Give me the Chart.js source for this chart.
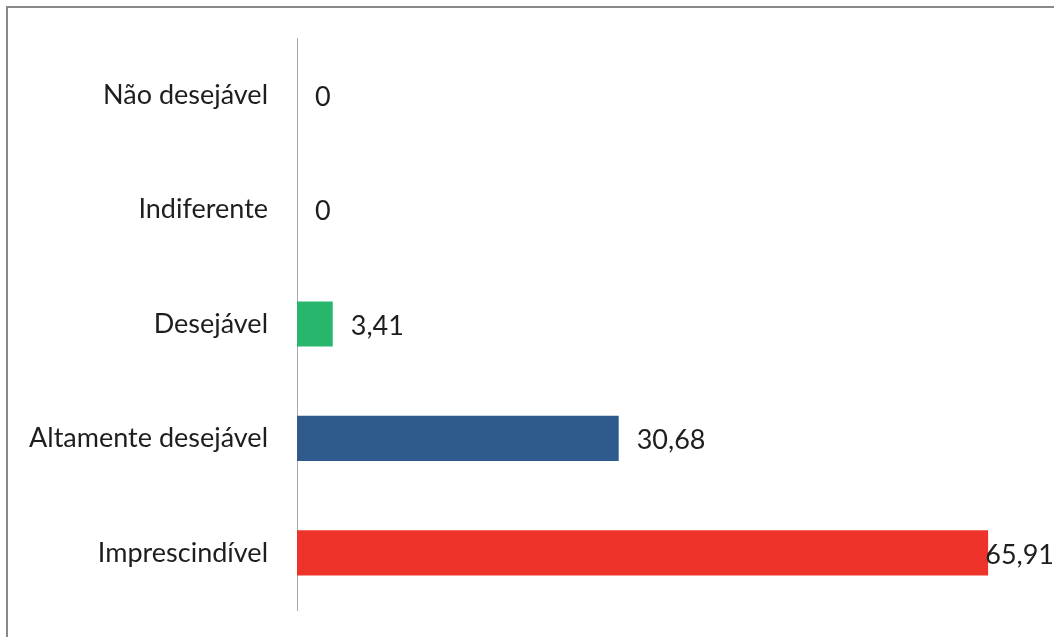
<!DOCTYPE html>
<html>
<head>
<meta charset="utf-8">
<script src="https://cdn.jsdelivr.net/npm/chart.js@4/dist/chart.umd.min.js"></script>
<style>
html,body{margin:0;padding:0;background:#fff;overflow:hidden;}
#wrap{position:absolute;left:0;top:0;width:1054px;height:637px;}
</style>
</head>
<body>
<div id="wrap"><canvas id="c" width="1054" height="637"></canvas></div>
<script>
const categories = ["Não desejável", "Indiferente", "Desejável", "Altamente desejável", "Imprescindível"];
const values = [0, 0, 3.41, 30.68, 65.91];
const valueLabels = ["0", "0", "3,41", "30,68", "65,91"];
const barColors = ["#9e9e9e", "#9e9e9e", "#27b66b", "#2f5a8c", "#ee332b"];

const FONT = "Lato, 'Open Sans', sans-serif";
const FONT_SIZE = 27;

const frame = {
  id: 'frame',
  beforeDraw(chart) {
    const ctx = chart.ctx;
    ctx.save();
    ctx.fillStyle = '#fff';
    ctx.fillRect(0, 0, chart.width, chart.height);
    ctx.strokeStyle = '#8a8a8a';
    ctx.lineWidth = 2;
    ctx.beginPath();
    ctx.moveTo(7, chart.height + 5);
    ctx.lineTo(7, 7);
    ctx.lineTo(chart.width + 5, 7);
    ctx.stroke();
    ctx.restore();
  }
};

const valueLabelPlugin = {
  id: 'valueLabels',
  afterDatasetsDraw(chart) {
    const ctx = chart.ctx;
    const meta = chart.getDatasetMeta(0);
    ctx.save();
    ctx.font = FONT_SIZE + "px " + FONT;
    ctx.fillStyle = '#1e1e1e';
    ctx.textBaseline = 'middle';
    ctx.textAlign = 'left';
    meta.data.forEach((bar, i) => {
      const txt = valueLabels[i];
      const w = ctx.measureText(txt).width;
      let x = bar.x + 18;
      if (x + w > chart.width) x = chart.width - w;
      ctx.fillText(txt, x, bar.y + 2);
    });
    ctx.restore();
  }
};

new Chart(document.getElementById('c'), {
  type: 'bar',
  data: {
    labels: categories,
    datasets: [{
      data: values,
      backgroundColor: barColors,
      borderWidth: 0,
      categoryPercentage: 1,
      barPercentage: 0.395
    }]
  },
  options: {
    indexAxis: 'y',
    responsive: false,
    animation: false,
    devicePixelRatio: 1,
    layout: { padding: { top: 38, bottom: 27, right: 23, left: 0 } },
    plugins: { legend: { display: false }, tooltip: { enabled: false } },
    scales: {
      x: { display: false, min: 0, max: 70 },
      y: {
        grid: { display: false, drawTicks: false },
        border: { display: true, color: '#a9a9a9', width: 1 },
        ticks: { color: '#1e1e1e', font: { family: FONT, size: FONT_SIZE }, padding: 29 },
        afterFit(scale) {
          scale.width = 297;
          scale.paddingTop = 0;
          scale.paddingBottom = 0;
        }
      }
    }
  },
  plugins: [frame, valueLabelPlugin]
});
</script>
</body>
</html>
